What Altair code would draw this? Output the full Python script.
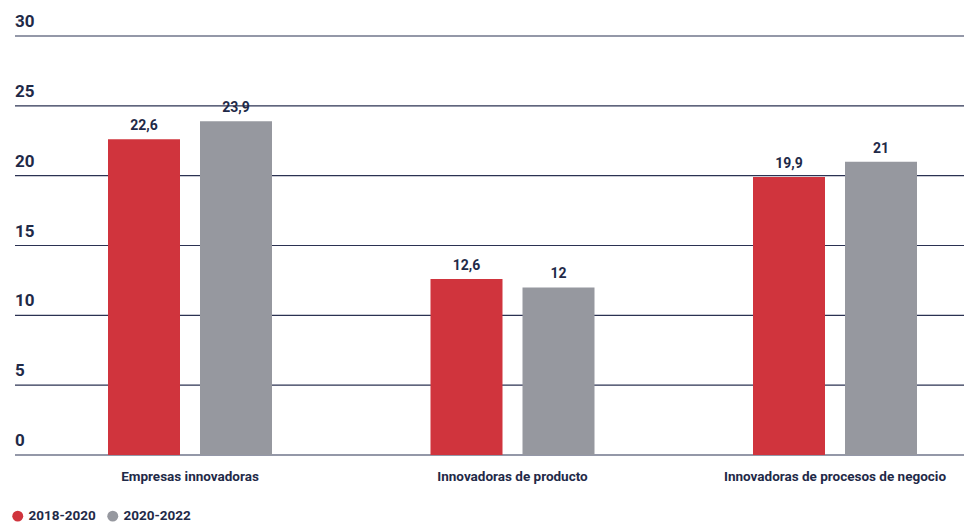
import altair as alt
import pandas as pd

categories = ["Empresas innovadoras", "Innovadoras de producto", "Innovadoras de procesos de negocio"]
periods = ["2018-2020", "2020-2022"]
values_2018_2020 = [22.6, 12.6, 19.9]
values_2020_2022 = [23.9, 12, 21]
y_ticks = [0, 5, 10, 15, 20, 25, 30]
colors = ["#d0343d", "#96989f"]

rows = []
for c, v1, v2 in zip(categories, values_2018_2020, values_2020_2022):
    rows.append({"cat": c, "period": periods[0], "value": v1, "label": str(v1).replace(".", ",")})
    rows.append({"cat": c, "period": periods[1], "value": v2, "label": str(v2).replace(".", ",")})
df = pd.DataFrame(rows)
grid_df = pd.DataFrame({"v": y_ticks})

FONT = "Liberation Sans Narrow, Roboto, sans-serif"
NAVY = "#1f2a48"

LEFT = 61
W, H = 964 - LEFT, 419

yscale = alt.Scale(domain=[0, 30], nice=False, zero=True)
xscale = alt.Scale(domain=categories, paddingInner=0.2, paddingOuter=0)
cscale = alt.Scale(domain=periods, range=colors)

xenc = alt.X("cat:N", scale=xscale, sort=categories,
             axis=alt.Axis(title=None, domain=False, ticks=False, labelAngle=0,
                           labelFont=FONT, labelFontSize=13.5, labelFontWeight="bold",
                           labelColor=NAVY, labelPadding=14, labelLimit=400))
yenc = alt.Y("value:Q", scale=yscale, axis=None)

grid = alt.Chart(grid_df).mark_rule(color="#2b3252", strokeWidth=1.2).encode(
    y=alt.Y("v:Q", scale=yscale, axis=None),
    x=alt.value(15 - LEFT),
    x2=alt.value(W),
)

grid_labels = alt.Chart(grid_df).mark_text(
    align="left", baseline="bottom", dy=-5, font=FONT, fontSize=17,
    fontWeight="bold", color=NAVY
).encode(
    y=alt.Y("v:Q", scale=yscale, axis=None),
    x=alt.value(15 - LEFT),
    text=alt.Text("v:Q"),
)

legend = alt.Legend(title=None, orient="none", direction="horizontal",
                    legendX=11 - LEFT, legendY=473, symbolType="circle",
                    symbolSize=120, symbolStrokeWidth=0,
                    labelFont=FONT, labelFontSize=13.5,
                    labelFontWeight="bold", labelColor=NAVY,
                    columnPadding=10, labelOffset=4)

layers = [grid]
for p, off in zip(periods, [-46, 46]):
    base = alt.Chart(df).transform_filter(alt.datum.period == p)
    layers.append(base.mark_bar(width=72, xOffset=off).encode(
        x=xenc, y=yenc,
        color=alt.Color("period:N", scale=cscale, legend=legend),
    ))
    layers.append(base.mark_text(
        baseline="bottom", dx=off, dy=-6, font=FONT, fontSize=14,
        fontWeight="bold", color=NAVY
    ).encode(x=xenc, y=yenc, text="label:N"))
layers.append(grid_labels)

chart = alt.layer(*layers).properties(
    width=W, height=H,
    autosize=alt.AutoSizeParams(type="none"),
    padding={"left": LEFT, "top": 36, "right": 0, "bottom": 69},
).configure_view(stroke=None)

chart.save("out.html", embed_options={"renderer": "svg", "actions": False})
